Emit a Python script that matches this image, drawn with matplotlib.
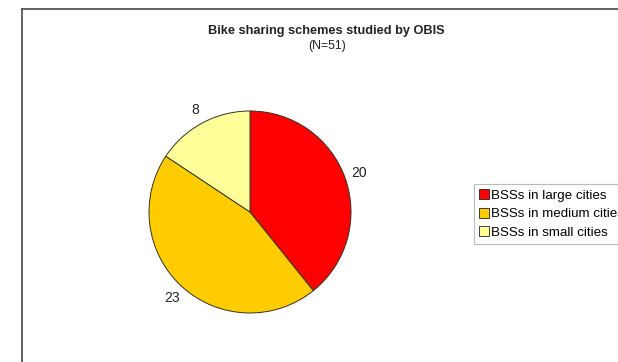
import matplotlib.pyplot as plt
from matplotlib.lines import Line2D
from matplotlib.patches import Patch

plt.rcParams['font.family'] = ['Liberation Sans', 'DejaVu Sans']

# scheme counts by city size
categories = ['BSSs in large cities', 'BSSs in medium cities', 'BSSs in small cities']
counts = [20, 23, 8]
colors = ['#FF0000', '#FFCC00', '#FFFF99']

W, H = 618, 362
fig = plt.figure(figsize=(W / 100, H / 100), dpi=100)

# frame lines along top and left
fig.add_artist(Line2D([22 / W, 1], [1 - 9 / H, 1 - 9 / H], color='#555555', lw=1.3))
fig.add_artist(Line2D([22 / W, 22 / W], [0, 1 - 9 / H], color='#555555', lw=1.3))

fig.text(326 / W, 1 - 31 / H, 'Bike sharing schemes studied by OBIS',
         ha='center', va='center', fontsize=9.2, fontweight='bold', color='#222222')
fig.text(327 / W, 1 - 46 / H, '(N=51)', ha='center', va='center',
         fontsize=8.8, color='#222222')

# pie centred at (250, 212) px, radius 101 px
cx, cy, r = 250, 212, 101
ax = fig.add_axes([(cx - r) / W, (H - cy - r) / H, 2 * r / W, 2 * r / H])
wedges, texts = ax.pie(counts, colors=colors, labels=[str(c) for c in counts],
                       startangle=90, counterclock=False, labeldistance=1.15,
                       wedgeprops=dict(edgecolor='#333322', linewidth=0.7),
                       textprops=dict(fontsize=10, color='#222222'))
for t in texts:
    t.set_ha('center')
    t.set_va('center')
ax.set_xlim(-1, 1)
ax.set_ylim(-1, 1)
ax.set_aspect('equal')
ax.axis('off')

handles = [Patch(facecolor=c, edgecolor='#222222', linewidth=0.6) for c in colors]
leg = fig.legend(handles, categories, loc='upper left',
                 bbox_to_anchor=(474 / W, 1 - 184 / H), fontsize=9.6,
                 handlelength=0.75, handleheight=0.75, handletextpad=0.15,
                 labelspacing=0.45, borderpad=0.4, borderaxespad=0,
                 fancybox=False, edgecolor='#BBBBBB', framealpha=1)
leg.get_frame().set_linewidth(0.8)

fig.savefig('out.png', dpi=100)
